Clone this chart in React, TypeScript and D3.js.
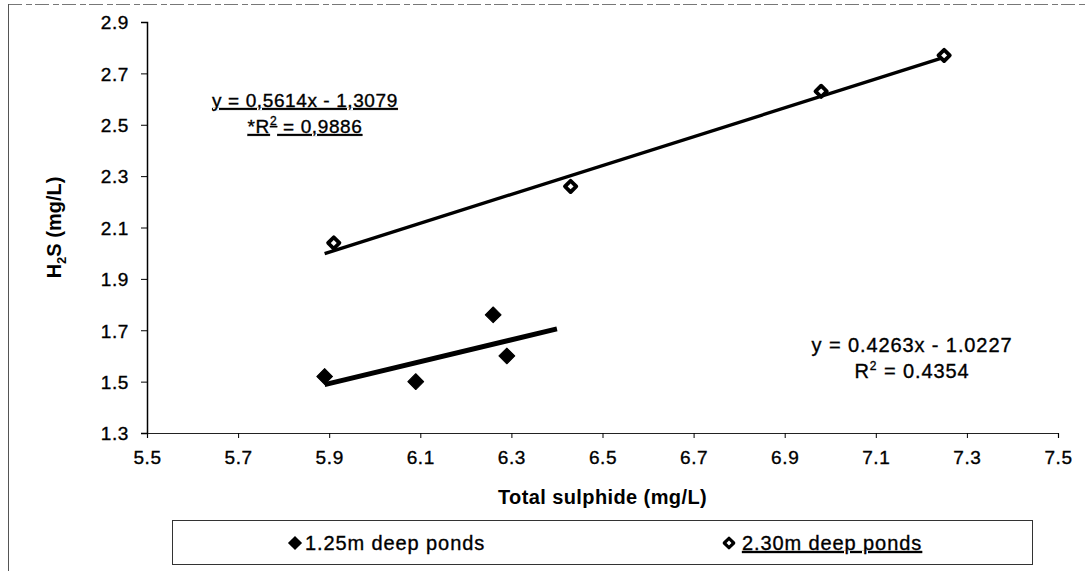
import { useEffect, useRef } from 'react';
import * as d3 from 'd3';

const xTicks = [5.5, 5.7, 5.9, 6.1, 6.3, 6.5, 6.7, 6.9, 7.1, 7.3, 7.5];
const yTicks = [1.3, 1.5, 1.7, 1.9, 2.1, 2.3, 2.5, 2.7, 2.9];

// 1.25m deep ponds (filled diamonds)
const shallowX = [5.89, 6.09, 6.26, 6.29];
const shallowY = [1.52, 1.5, 1.76, 1.6];
// 2.30m deep ponds (open diamonds)
const deepX = [5.91, 6.43, 6.98, 7.25];
const deepY = [2.04, 2.26, 2.63, 2.77];

// linear trendlines: [slope, intercept], drawn over [from, to]
const shallowFit = [0.4263, -1.0227];
const shallowRange = [5.89, 6.4];
const deepFit = [0.5614, -1.3079];
const deepRange = [5.89, 7.26];

const FONT = '"Liberation Sans", Arial, sans-serif';

const App = () => {
  const svgRef = useRef(null);

  useEffect(() => {
    const svg = d3.select(svgRef.current);
    svg.selectAll('*').remove();

    const x = d3.scaleLinear().domain([5.5, 7.5]).range([147, 1058]);
    const y = d3.scaleLinear().domain([1.3, 2.9]).range([433, 22]);

    // outer frame (top + left edges visible in the scan)
    svg.append('line')
      .attr('x1', 8).attr('x2', 1088).attr('y1', 4.5).attr('y2', 4.5)
      .attr('stroke', '#777').attr('stroke-width', 1)
      .attr('stroke-dasharray', '14 4 6 3');
    svg.append('line')
      .attr('x1', 8.5).attr('x2', 8.5).attr('y1', 4).attr('y2', 571)
      .attr('stroke', '#555').attr('stroke-width', 1);

    // y axis
    const yAxis = svg.append('g').attr('transform', 'translate(147,0)')
      .call(d3.axisLeft(y).tickValues(yTicks).tickSize(6).tickPadding(12).tickFormat(d3.format('.1f')));
    yAxis.select('.domain').attr('stroke', '#000').attr('stroke-width', 1.5);
    yAxis.selectAll('text')
      .attr('font-family', FONT).attr('font-size', 19).attr('fill', '#000')
      .attr('stroke', '#000').attr('stroke-width', 0.35)
      .attr('letter-spacing', 0.6).attr('dy', '0.36em');

    // x axis
    const xAxis = svg.append('g').attr('transform', 'translate(0,433)')
      .call(d3.axisBottom(x).tickValues(xTicks).tickSize(5).tickPadding(13).tickFormat(d3.format('.1f')));
    xAxis.select('.domain').attr('stroke', '#222').attr('stroke-width', 1.2);
    xAxis.selectAll('text')
      .attr('font-family', FONT).attr('font-size', 19).attr('fill', '#000')
      .attr('stroke', '#000').attr('stroke-width', 0.35)
      .attr('letter-spacing', 0.6);

    // axis titles
    svg.append('text')
      .attr('x', x(6.5)).attr('y', 504).attr('text-anchor', 'middle')
      .attr('font-family', FONT).attr('font-size', 20).attr('font-weight', 'bold')
      .attr('letter-spacing', 0.4)
      .text('Total sulphide (mg/L)');
    const yt = svg.append('text')
      .attr('transform', `translate(61,${y(2.1)}) rotate(-90)`)
      .attr('text-anchor', 'middle')
      .attr('font-family', FONT).attr('font-size', 20).attr('font-weight', 'bold');
    yt.append('tspan').text('H');
    yt.append('tspan').attr('font-size', 13).attr('dy', 5).text('2');
    yt.append('tspan').attr('dy', -5).text('S (mg/L)');

    // trendlines
    const line = d3.line().x(d => x(d[0])).y(d => y(d[1]));
    const fitPts = (fit, range) => range.map(v => [v, fit[0] * v + fit[1]]);
    svg.append('path').attr('d', line(fitPts(deepFit, deepRange)))
      .attr('stroke', '#000').attr('stroke-width', 3.4).attr('fill', 'none');
    svg.append('path').attr('d', line(fitPts(shallowFit, shallowRange)))
      .attr('stroke', '#000').attr('stroke-width', 5).attr('fill', 'none');

    // markers
    const diamond = size => d3.symbol().type(d3.symbolSquare).size(size)();
    svg.append('g').selectAll('path')
      .data(shallowX.map((v, i) => [v, shallowY[i]]))
      .join('path')
      .attr('d', diamond(125))
      .attr('transform', d => `translate(${x(d[0])},${y(d[1])}) rotate(45)`)
      .attr('fill', '#000').attr('stroke', '#000').attr('stroke-width', 1)
      .attr('stroke-linejoin', 'round');
    svg.append('g').selectAll('path')
      .data(deepX.map((v, i) => [v, deepY[i]]))
      .join('path')
      .attr('d', diamond(64))
      .attr('transform', d => `translate(${x(d[0])},${y(d[1])}) rotate(45)`)
      .attr('fill', '#fff').attr('stroke', '#000').attr('stroke-width', 3.8)
      .attr('stroke-linejoin', 'round');

    // equation labels
    const eq = (cx, cy, lines, underline, size, spacing) => {
      lines.forEach((ln, i) => {
        const t = svg.append('text')
          .attr('x', cx).attr('y', cy + i * 26).attr('text-anchor', 'middle')
          .attr('font-family', FONT).attr('font-size', size).attr('letter-spacing', spacing)
          .attr('stroke', '#000').attr('stroke-width', 0.35)
          .attr('text-decoration', underline ? 'underline' : null);
        ln.forEach(part => {
          if (part.sup) t.append('tspan').attr('font-size', 12).attr('dy', -8).text(part.sup);
          else t.append('tspan').attr('dy', part.after ? 8 : null).text(part.text);
        });
      });
    };
    eq(305, 107, [
      [{ text: 'y = 0,5614x - 1,3079' }],
      [{ text: '*R' }, { sup: '2' }, { text: ' = 0,9886', after: true }],
    ], true, 19, 0.6);
    eq(912, 352, [
      [{ text: 'y = 0.4263x - 1.0227' }],
      [{ text: 'R' }, { sup: '2' }, { text: ' = 0.4354', after: true }],
    ], false, 20, 0.9);

    // legend
    svg.append('rect')
      .attr('x', 172.5).attr('y', 520.5).attr('width', 860).attr('height', 44)
      .attr('fill', 'none').attr('stroke', '#333').attr('stroke-width', 1);
    svg.append('path').attr('d', diamond(100))
      .attr('transform', 'translate(295,543) rotate(45)').attr('fill', '#000');
    svg.append('text').attr('x', 305).attr('y', 550)
      .attr('font-family', FONT).attr('font-size', 20).attr('letter-spacing', 0.9)
      .attr('stroke', '#000').attr('stroke-width', 0.35)
      .text('1.25m deep ponds');
    svg.append('path').attr('d', diamond(45))
      .attr('transform', 'translate(729,543) rotate(45)')
      .attr('fill', '#fff').attr('stroke', '#000').attr('stroke-width', 3.2)
      .attr('stroke-linejoin', 'round');
    svg.append('text').attr('x', 742).attr('y', 550)
      .attr('font-family', FONT).attr('font-size', 20).attr('letter-spacing', 0.9)
      .attr('stroke', '#000').attr('stroke-width', 0.35)
      .attr('text-decoration', 'underline')
      .text('2.30m deep ponds');
  }, []);

  return (
    <svg ref={svgRef} width={1088} height={571}
      style={{ position: 'absolute', left: 0, top: 0, background: '#fff' }} />
  );
};

export default App;
